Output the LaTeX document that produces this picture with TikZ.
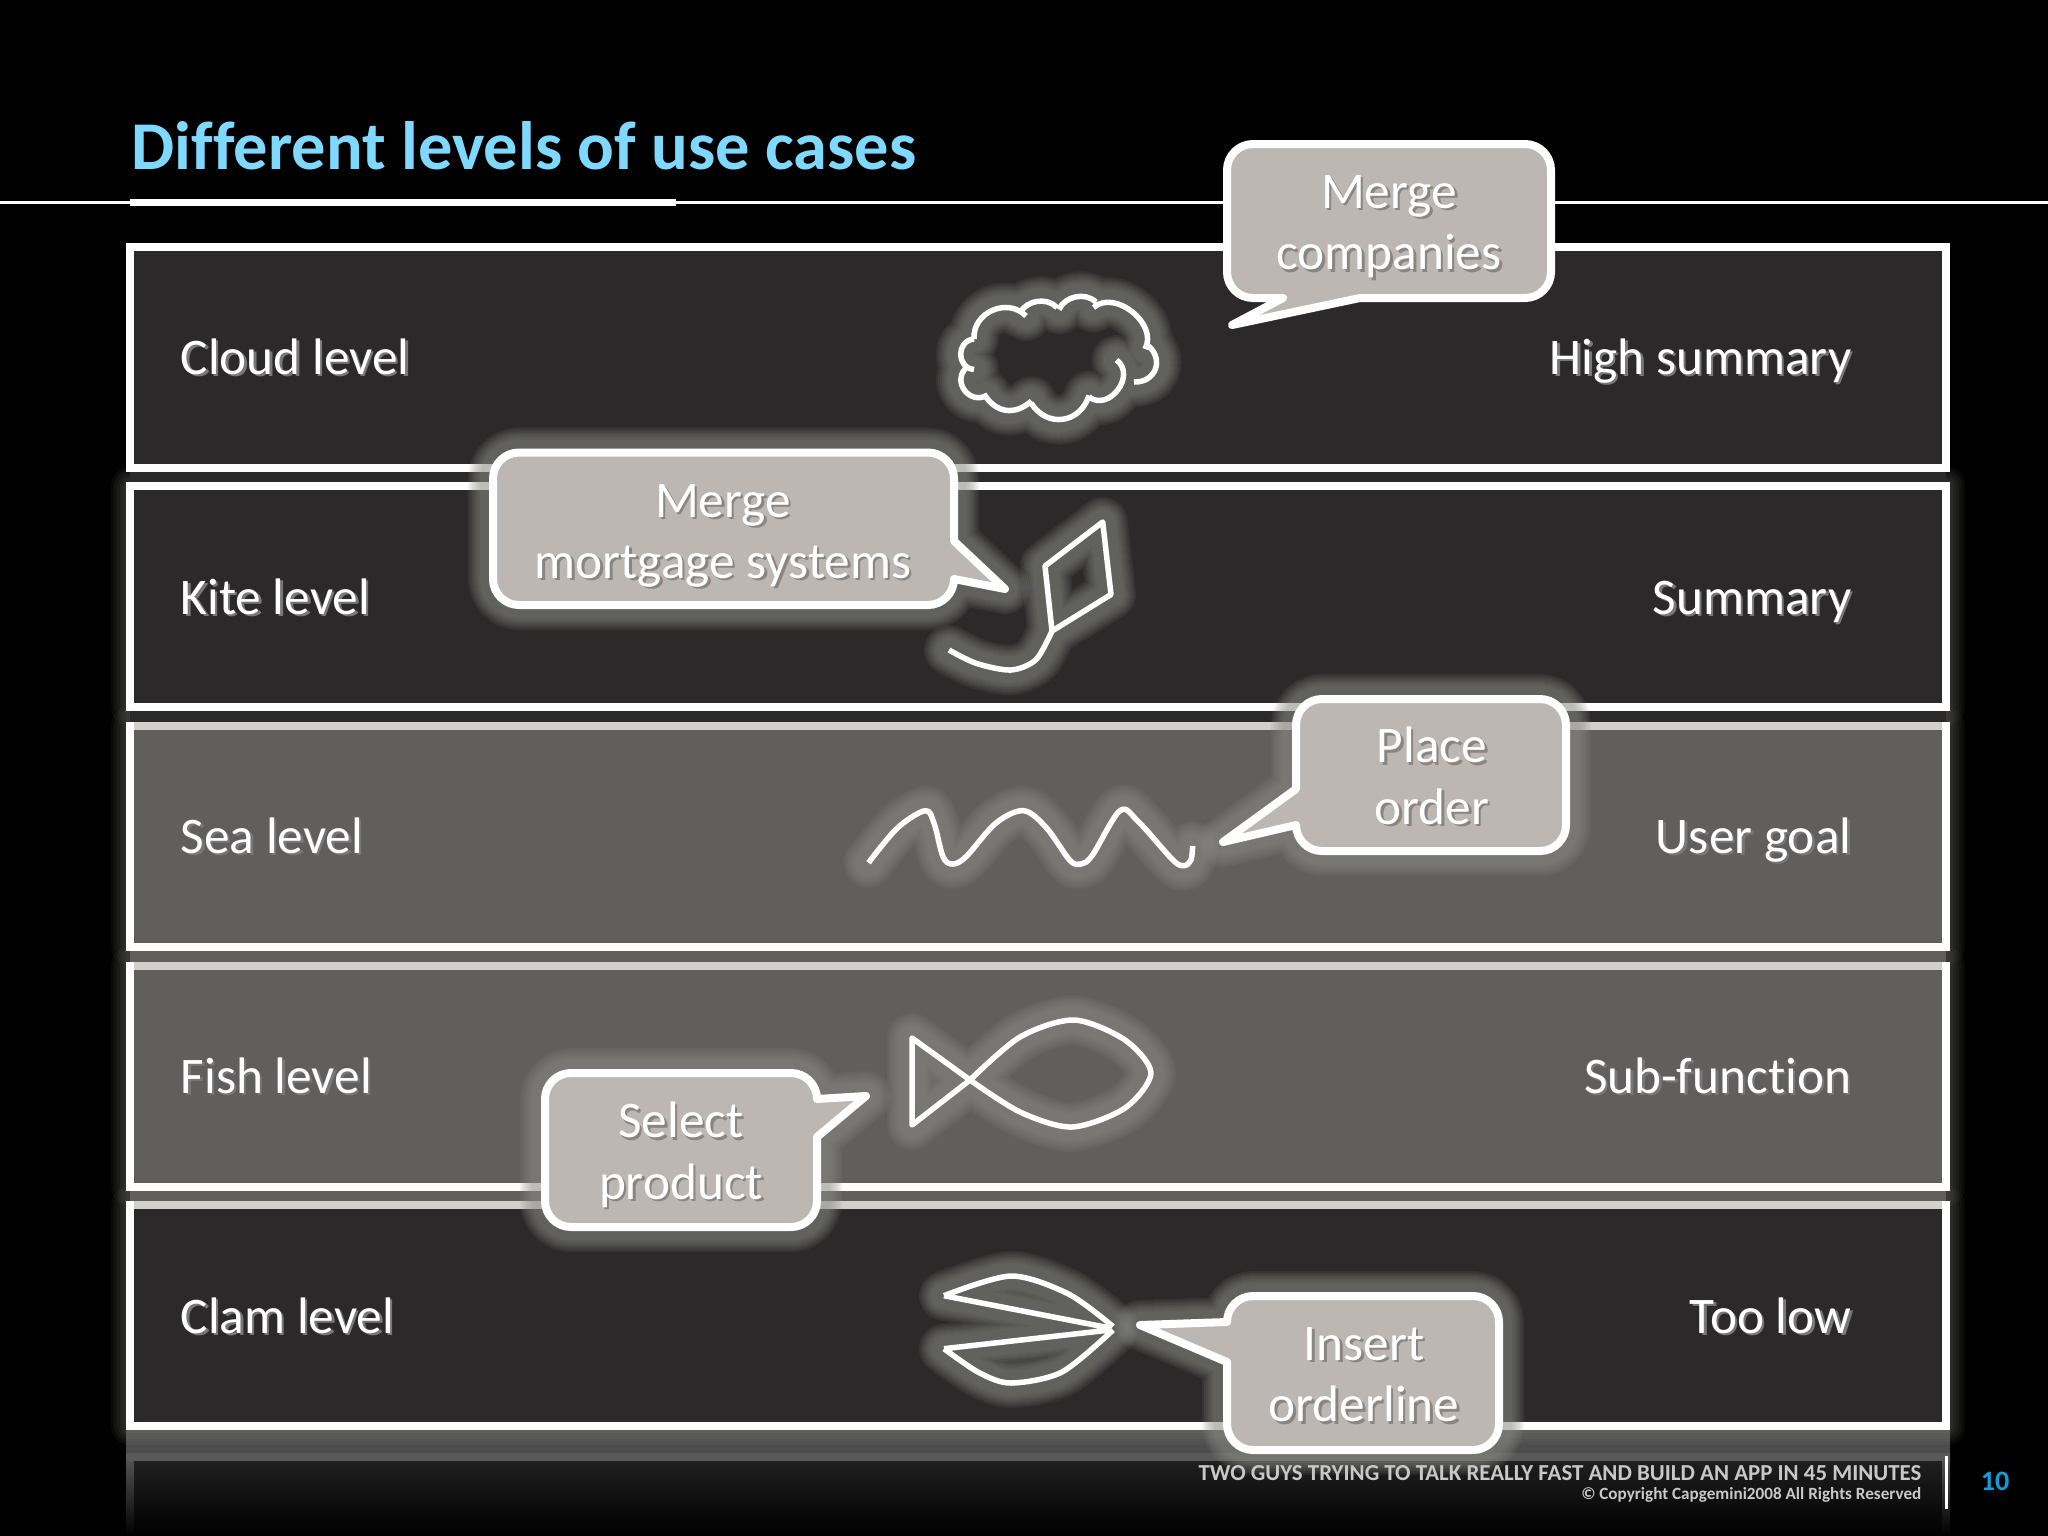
\documentclass[tikz,border=0pt]{standalone}
\usepackage{fontspec}
\setmainfont{Carlito}[Ligatures=NoCommon]
\usetikzlibrary{calc}
\definecolor{title_blue}{HTML}{7FD9FF}
\definecolor{number_blue}{HTML}{0BA0DC}
\definecolor{band_dark}{HTML}{2B292A}
\definecolor{band_mid}{HTML}{605F5D}
\definecolor{bubble_fill}{HTML}{BCB7B3}
\definecolor{glow_grey}{HTML}{8E8E8A}
\definecolor{frame_dim}{HTML}{D2D0CD}
\definecolor{foot_grey}{HTML}{C8C8C8}
\definecolor{halo_band}{HTML}{77777A}
\definecolor{halo_bubble}{HTML}{8A8581}
\tikzset{ glow/.style = { draw = glow_grey % soft edge
        , opacity = 0.115
        , line join = round
        , line cap = round
        }
        , sketch/.style = { draw = white % hand drawn figure
        , line width = 0.55mm
        , line join = round
        }
        , bubble/.style = { draw = white % speech bubble
        , fill = bubble_fill
        , line width = 0.8mm
        , line join = round
        }
        }
\newcommand\glowdraw[2]{%
  \foreach \w in {26,30,34,38,42,46,50} {\draw[glow,line width=\w*0.1mm] #2;}
  \draw[#1] #2;}
\newcommand\halo[2]{\leavevmode\rlap{\kern0.7pt\raisebox{-0.7pt}{\textcolor{#1}{#2}}}#2}
\begin{document}
\begin{tikzpicture}[x=0.01cm, y=-0.01cm,
        level_style/.style={inner sep=0,anchor=base west,text=white,font=\fontsize{14.6}{17}\selectfont},
        goal_style/.style={inner sep=0,anchor=base east,text=white,font=\fontsize{14.6}{17}\selectfont},
        bubble_text/.style={inner sep=0,align=center,text=white,font=\fontsize{14.6}{17.4}\selectfont},
        frame_style/.style={draw=white,line width=0.8mm,line join=miter},
        foot_style/.style={inner sep=0,anchor=base east,text=foot_grey}]
        \useasboundingbox (0,0) rectangle (2048,1536);
        \fill[black] (0,0) rectangle (2048,1536);

        % title and rule
        \node [inner sep=0,anchor=base west,text=title_blue,font=\fontsize{19.45}{22}\selectfont\bfseries] (title) at (131,169) {Different levels of use cases};
        \draw [white,line width=0.25mm] (0,202.5) -- (2048,202.5);
        \draw [white,line width=0.7mm] (130,202.5) -- (676,202.5);

        % reflection under the last band
        \shade [top color=band_dark!80!black,bottom color=black] (130,1457) rectangle (1946,1536);
        \shade [top color=black!65!white,bottom color=black] (126,1453) rectangle (134,1536);
        \shade [top color=black!65!white,bottom color=black] (1942,1453) rectangle (1950,1536);
        \fill [black!70!white] (126,1430) rectangle (1950,1453);
        \fill [black!65!white] (126,1453) rectangle (1950,1461);

        % glow round the bands
        \foreach \t/\b in {486/707.4,725.8/947,965.5/1187,1205/1426} {
          \foreach \w in {14,20,26,32,38} {\draw[glow,opacity=0.07,line width=\w*0.1mm] (130,\t) rectangle (1946,\b);}
        }

        % bands
        \fill [band_dark] (130,468) rectangle (1946,486);
        \fill [band_dark] (130,707) rectangle (1946,726);
        \fill [band_mid] (130,947) rectangle (1946,966);
        \fill [band_mid] (130,1187) rectangle (1946,1205);
        \draw [frame_style,fill=band_dark] (130,246.6) rectangle (1946,468);
        \draw [frame_style,fill=band_dark] (130,486) rectangle (1946,707.4);
        \draw [frame_style,fill=band_mid] (130,725.8) rectangle (1946,947);
        \draw [frame_style,fill=band_mid] (130,965.5) rectangle (1946,1187);
        \draw [frame_style,fill=band_dark] (130,1205) rectangle (1946,1426);
        \draw [frame_dim,line width=0.8mm] (134,725.8) -- (1942,725.8);
        \draw [frame_dim,line width=0.8mm] (134,965.5) -- (1942,965.5);
        \draw [frame_dim,line width=0.8mm] (134,1205) -- (1942,1205);

        % level names
        \node [level_style] (level1) at (180,374) {\halo{halo_band}{Cloud level}};
        \node [level_style] (level2) at (180,614) {\halo{halo_band}{Kite level}};
        \node [level_style] (level3) at (180,853.5) {\halo{halo_band}{Sea level}};
        \node [level_style] (level4) at (180,1093) {\halo{halo_band}{Fish level}};
        \node [level_style] (level5) at (180,1333) {\halo{halo_band}{Clam level}};
        \node [goal_style] (goal1) at (1852,374) {\halo{halo_band}{High summary}};
        \node [goal_style] (goal2) at (1852,614) {\halo{halo_band}{Summary}};
        \node [goal_style] (goal3) at (1852,853.5) {\halo{halo_band}{User goal}};
        \node [goal_style] (goal4) at (1852,1093) {\halo{halo_band}{Sub-function}};
        \node [goal_style] (goal5) at (1852,1333) {\halo{halo_band}{Too low}};

        % cloud
        \glowdraw{sketch}{(974,339) to[bend right=85,looseness=1.5] (974,369.5)
          (965,369) to[bend right=80,looseness=1.4] (986.5,395.5)
          (984,394) to[bend right=50,looseness=1.2] (1031.5,401)
          (1031,403) to[bend right=65,looseness=1.3] (1089,395.5)
          (1089,397) to[bend right=90,looseness=1.4] (1116.5,360)
          (1134,382) to[bend right=70,looseness=1.4] (1148.6,346)
          (1145,349) to[bend right=80,looseness=1.1] (1093.5,307.5)
          (1096,302) to[bend right=55] (1059,309.5)
          (1057,307.5) to[bend right=55] (1020,313)
          (1026,316) to[bend right=70,looseness=1.2] (974,339)}

        % kite
        \glowdraw{sketch}{(1102.7,522) -- (1111,594.5) -- (1052,631) -- (1045,566) -- cycle
          (1052,631) -- plot[smooth] coordinates {(1052,631) (1036,659.6) (1011,670) (976.4,663.4) (949,650)}}

        % wave
        \glowdraw{sketch}{plot[smooth,tension=0.55] coordinates {(868.5,862.7) (897.4,828) (925,810.7) (934,823) (943,856.7) (952.5,864) (966,856.7) (996,823) (1023.7,810.7) (1046.6,828) (1069.6,860) (1081,864) (1092.5,855) (1120,810.7) (1138.4,821.7) (1172.9,860) (1184,865.7) (1191,860) (1192.6,846)}}

        % fish
        \glowdraw{sketch}{(912,1038) -- plot[smooth] coordinates {(970,1080) (1020,1037) (1074,1020) (1125,1040) (1151,1073) (1125,1108) (1072,1127) (1020,1112) (970,1080)} -- (912,1125) -- cycle}

        % clam
        \glowdraw{sketch}{(1110,1328) -- (944,1295.7) plot[smooth] coordinates {(944,1295.7) (1011,1276) (1068.5,1294) (1113,1326.5)}
          (1110,1330) -- (944,1348.7) plot[smooth] coordinates {(944,1348.7) (979,1372.6) (1011,1383) (1062,1372) (1113,1330)}}

        % speech bubbles
        \draw [bubble] (1232,325) -- (1283,298) [rounded corners=0.26cm] -- (1227,298) -- (1227,144) -- (1551,144) -- (1551,298) [sharp corners] -- (1360,298) -- cycle;
        \glowdraw{bubble}{(1005,589) -- (954,541) [rounded corners=0.26cm] -- (954,452.5) -- (493,452.5) -- (493,605) -- (954,605) [sharp corners] -- (954,579) -- cycle}
        \glowdraw{bubble}{(1223,842) -- (1296,789) [rounded corners=0.26cm] -- (1296,699) -- (1566,699) -- (1566,851) -- (1296,851) [sharp corners] -- (1296,825) -- cycle}
        \glowdraw{bubble}{(866,1096) -- (817,1099) [rounded corners=0.26cm] -- (817,1073) -- (545,1073) -- (545,1227) -- (817,1227) [sharp corners] -- (817,1137) -- cycle}
        \glowdraw{bubble}{(1140,1325) -- (1227,1322) [rounded corners=0.26cm] -- (1227,1296) -- (1499,1296) -- (1499,1450) -- (1227,1450) [sharp corners] -- (1227,1362) -- cycle}

        \node [bubble_text] (say1) at (1389,228) {\halo{halo_bubble}{Merge}\\\halo{halo_bubble}{companies}};
        \node [bubble_text] (say2) at (723,537) {\halo{halo_bubble}{Merge}\\\halo{halo_bubble}{mortgage systems}};
        \node [bubble_text] (say3) at (1432,777) {\halo{halo_bubble}{Place}\\\halo{halo_bubble}{order}};
        \node [bubble_text] (say4) at (681,1156) {\halo{halo_bubble}{Select}\\\halo{halo_bubble}{product}};
        \node [bubble_text] (say5) at (1364,1376) {\halo{halo_bubble}{Insert}\\\halo{halo_bubble}{orderline}};

        % footer
        \node [foot_style,font=\fontsize{6.5}{8}\selectfont\bfseries] (foot1) at (1922,1480) {TWO GUYS TRYING TO TALK REALLY FAST AND BUILD AN APP IN 45 MINUTES};
        \node [foot_style,font=\fontsize{4.87}{7}\selectfont\bfseries] (foot2) at (1922,1499) {© Copyright Capgemini2008 All Rights Reserved};
        \draw [white,line width=0.3mm] (1946.5,1456) -- (1946.5,1509);
        \node [inner sep=0,text=number_blue,font=\fontsize{8}{10}\selectfont\bfseries] (page) at (1995,1481.5) {10};
\end{tikzpicture}
\end{document}
